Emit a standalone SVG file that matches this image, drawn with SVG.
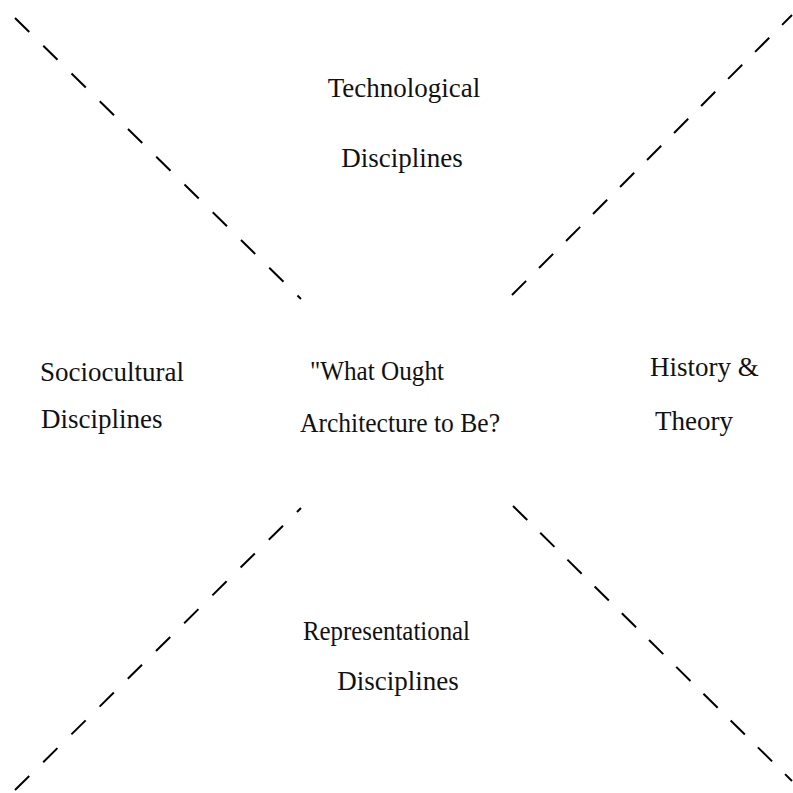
<svg xmlns="http://www.w3.org/2000/svg" width="793" height="793" viewBox="0 0 793 793">
<style>
.bg{fill:#fff}
.dash{stroke:#000;stroke-width:2;stroke-dasharray:20 19.6;fill:none;stroke-linecap:butt}
.dash2{stroke-dasharray:20 18.2}
.t{font-family:"Liberation Serif","Times New Roman",serif;font-size:27px;fill:#111}
.c{text-anchor:middle}
</style>
<rect class="bg" x="0" y="0" width="793" height="793"/>
<g id="connectors">
<line class="dash" x1="15" y1="18" x2="301" y2="299"/>
<line class="dash dash2" x1="512" y1="295" x2="792" y2="15"/>
<line class="dash" x1="15" y1="790" x2="301" y2="508"/>
<line class="dash dash2" x1="513" y1="506" x2="792" y2="781"/>
</g>
<g id="technological"><text class="t c" x="404" y="97">Technological</text><text class="t c" x="402" y="167">Disciplines</text></g>
<g id="sociocultural"><text class="t" x="40" y="381">Sociocultural</text><text class="t" x="41" y="428">Disciplines</text></g>
<g id="center"><text class="t" x="310" y="380" textLength="134" lengthAdjust="spacingAndGlyphs">"What Ought</text><text class="t" x="300" y="432" textLength="200" lengthAdjust="spacingAndGlyphs">Architecture to Be?</text></g>
<g id="history"><text class="t" x="650" y="376">History &amp;</text><text class="t" x="655" y="430">Theory</text></g>
<g id="representational"><text class="t" x="303" y="640" textLength="167" lengthAdjust="spacingAndGlyphs">Representational</text><text class="t c" x="398" y="690">Disciplines</text></g>
</svg>
